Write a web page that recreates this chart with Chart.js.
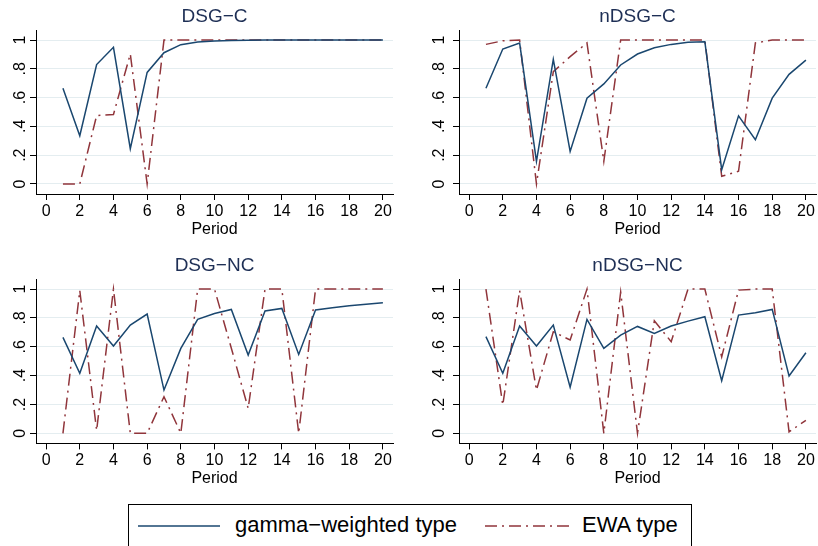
<!DOCTYPE html>
<html>
<head>
<meta charset="utf-8">
<script src="https://cdn.jsdelivr.net/npm/chart.js@4.4.1/dist/chart.umd.min.js"></script>
<style>
  html, body { margin:0; padding:0; background:#fff; }
  body { width:818px; height:546px; position:relative; overflow:hidden; font-family:"Liberation Sans", Arial, sans-serif; }
  canvas { position:absolute; }
  #legend { position:absolute; left:128px; top:504px; width:564px; height:60px; border:1px solid #000; box-sizing:border-box; background:#fff; }
  #legend span { position:absolute; font-size:22px; line-height:22px; color:#000; white-space:nowrap; }
  #legend svg { position:absolute; }
</style>
</head>
<body>
<canvas id="c1" width="409" height="250" style="left:0;top:0"></canvas>
<canvas id="c2" width="409" height="250" style="left:409px;top:0"></canvas>
<canvas id="c3" width="409" height="250" style="left:0;top:250px"></canvas>
<canvas id="c4" width="409" height="250" style="left:409px;top:250px"></canvas>
<div id="legend">
  <svg width="100" height="40" style="left:9px;top:0"><line x1="0" y1="21" x2="82" y2="21" stroke="#1a476f" stroke-width="1.6"/></svg>
  <span id="lg1" style="left:106px;top:9px">gamma−weighted type</span>
  <svg width="100" height="40" style="left:356px;top:0"><line x1="0" y1="21" x2="84" y2="21" stroke="#90353b" stroke-width="1.6" stroke-dasharray="12 5 2 5"/></svg>
  <span id="lg2" style="left:453px;top:9px">EWA type</span>
</div>
<script>
// ---- data ----
const periods = [1,2,3,4,5,6,7,8,9,10,11,12,13,14,15,16,17,18,19,20];
const xTickValues = [0,2,4,6,8,10,12,14,16,18,20];
const yTickValues = [0,0.2,0.4,0.6,0.8,1];
const yTickLabels = ["0",".2",".4",".6",".8","1"];
const seriesNames = ["gamma−weighted type","EWA type"];
const panelTitles = ["DSG−C","nDSG−C","DSG−NC","nDSG−NC"];
const xAxisTitle = "Period";

const dsgC_gamma  = [0.665,0.335,0.830,0.950,0.245,0.775,0.912,0.968,0.986,0.994,0.997,0.999,1,1,1,1,1,1,1,1];
const dsgC_ewa    = [0,0,0.475,0.483,0.903,0,1,1,1,1,1,1,1,1,1,1,1,1,1,1];
const ndsgC_gamma = [0.665,0.938,0.979,0.157,0.866,0.226,0.596,0.695,0.827,0.903,0.947,0.970,0.984,0.988,0.099,0.473,0.307,0.596,0.762,0.861];
const ndsgC_ewa   = [0.970,0.995,1,0,0.780,0.885,0.980,0.157,1,1,1,1,1,1,0.053,0.088,0.980,1,1,1];
const dsgNC_gamma = [0.665,0.416,0.744,0.605,0.751,0.827,0.300,0.589,0.790,0.831,0.859,0.543,0.848,0.866,0.547,0.855,0.870,0.884,0.895,0.906];
const dsgNC_ewa   = [0,0.990,0.020,1,0,0,0.254,0,1,1,0.590,0.173,1,1,0,1,1,1,1,1];
const ndsgNC_gamma= [0.670,0.416,0.744,0.605,0.751,0.319,0.790,0.589,0.681,0.741,0.693,0.744,0.778,0.808,0.365,0.820,0.836,0.859,0.397,0.559];
const ndsgNC_ewa  = [1,0.196,0.990,0.300,0.704,0.647,1,0,0.980,0,0.780,0.635,1,1,0.530,0.993,1,1,0.010,0.090];

// ---- styling / layout ----
const FONT = '"Liberation Sans", Arial, sans-serif';
const BLUE = '#1a476f', RED = '#90353b', NAVY = '#1e2f55', GRID = '#e4edf0';

const panelDecor = {
  id: 'panelDecor',
  afterDraw(chart, args, opts) {
    const ctx = chart.ctx, a = chart.chartArea, ys = chart.scales.y;
    ctx.save();
    ctx.fillStyle = NAVY;
    ctx.font = '19px ' + FONT;
    ctx.textAlign = 'center';
    ctx.textBaseline = 'middle';
    ctx.fillText(opts.title, (a.left + a.right) / 2, a.top - 13);
    ctx.fillStyle = '#000';
    ctx.font = '16px ' + FONT;
    yTickValues.forEach((v, i) => {
      const y = ys.getPixelForValue(v);
      ctx.save();
      ctx.translate(a.left - opts.yLabelOffset, y);
      ctx.rotate(-Math.PI / 2);
      ctx.fillText(yTickLabels[i], 0, 0);
      ctx.restore();
    });
    ctx.restore();
  }
};

function makePanel(id, title, g, e, geo) {
  const H = 250, W = 409;
  const yw = geo.left;
  const xh = geo.titleY + 9.6 - geo.bottom;
  new Chart(document.getElementById(id), {
    type: 'line',
    data: {
      datasets: [
        { label: seriesNames[0], data: periods.map((p, i) => ({x: p, y: g[i]})),
          borderColor: BLUE, borderWidth: 1.5, pointRadius: 0, tension: 0, fill: false },
        { label: seriesNames[1], data: periods.map((p, i) => ({x: p, y: e[i]})),
          borderColor: RED, borderWidth: 1.5, borderDash: [12,5,2,5], pointRadius: 0, tension: 0, fill: false }
      ]
    },
    options: {
      responsive: false, animation: false, devicePixelRatio: 1,
      layout: { padding: { left: 0, top: geo.top, right: W - geo.right, bottom: H - (geo.titleY + 9.6) } },
      plugins: { legend: { display: false }, tooltip: { enabled: false }, title: { display: false },
                 panelDecor: { title: title, yLabelOffset: geo.yOff } },
      scales: {
        x: {
          type: 'linear', min: -0.6, max: 20.6,
          afterBuildTicks: s => { s.ticks = xTickValues.map(v => ({value: v})); },
          afterFit: s => { s.height = xh; },
          grid: { drawOnChartArea: false, drawTicks: true, tickLength: 6, tickColor: '#000', tickWidth: 1 },
          border: { display: true, color: '#000', width: 1 },
          ticks: { color: '#000', font: { family: FONT, size: 16 }, padding: 2, maxRotation: 0, autoSkip: false },
          title: { display: true, text: xAxisTitle, color: '#000', font: { family: FONT, size: 16 }, padding: 0 }
        },
        y: {
          type: 'linear', min: -0.07, max: 1.07,
          afterBuildTicks: s => { s.ticks = yTickValues.map(v => ({value: v})); },
          afterFit: s => { s.width = yw; },
          grid: { drawOnChartArea: true, color: GRID, lineWidth: 1, drawTicks: true, tickLength: 6, tickColor: '#000', tickWidth: 1 },
          border: { display: true, color: '#000', width: 1 },
          ticks: { display: false }
        }
      }
    },
    plugins: [panelDecor]
  });
}

makePanel('c1', panelTitles[0], dsgC_gamma,  dsgC_ewa,   {left:36, right:393, top:30, bottom:194, titleY:229.5, yOff:15});
makePanel('c2', panelTitles[1], ndsgC_gamma, ndsgC_ewa,  {left:50, right:407, top:30, bottom:194, titleY:229.5, yOff:19});
makePanel('c3', panelTitles[2], dsgNC_gamma, dsgNC_ewa,  {left:36, right:393, top:29, bottom:193.4, titleY:228.5, yOff:15});
makePanel('c4', panelTitles[3], ndsgNC_gamma,ndsgNC_ewa, {left:50, right:407, top:29, bottom:193.4, titleY:228.5, yOff:19});
</script>
</body>
</html>
